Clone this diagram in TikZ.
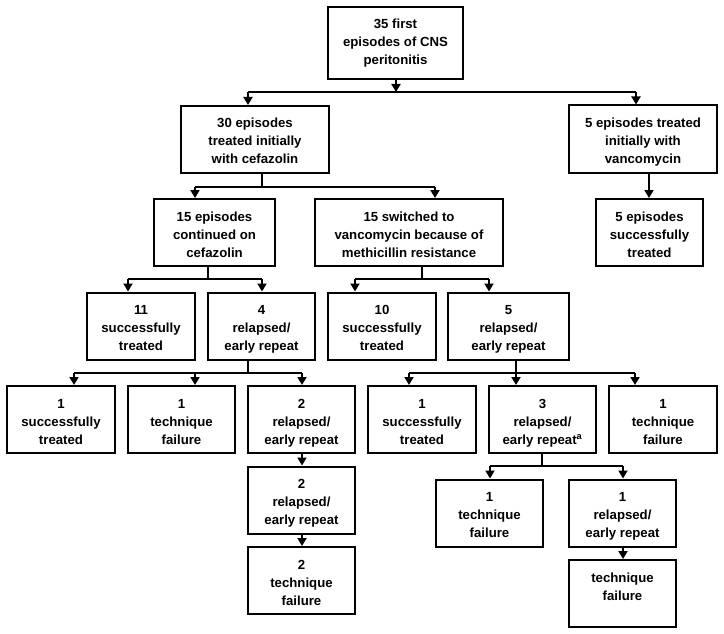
\documentclass[tikz,border=0pt]{standalone}
\usepackage{fontspec}
\setmainfont{Liberation Sans}
\usetikzlibrary{arrows.meta}
\newcommand{\topstrutx}{\rule{0pt}{17pt}}
\newcommand{\botstrutx}{\rule[-4pt]{0pt}{4pt}}
\begin{document}
\begin{tikzpicture}[x=1pt,y=-1pt,
 box/.style={draw, line width=2pt, align=center, inner sep=0pt, minimum height=67pt,
   font=\bfseries\fontsize{13.2}{18}\selectfont},
 conn/.style={line width=1.8pt},
 arr/.style={conn, -{Triangle[length=8pt,width=9pt]}}]
\useasboundingbox (0,0) rectangle (724,634);
\fill[white] (0,0) rectangle (724,634);
% level 0-1
\node[box, minimum width=135pt, minimum height=72pt] (top) at (395.5,43) {35 first\\episodes of CNS\\peritonitis};
\node[box, minimum width=148pt] (n30) at (255,139.5) {\topstrutx 30 episodes\\treated initially\\with cefazolin\botstrutx};
\node[box, minimum width=148pt] (n5v) at (643,139) {\topstrutx 5 episodes treated\\initially with\\vancomycin\botstrutx};
\node[box, minimum width=107pt] (n5s) at (649.5,232.5) {\topstrutx 5 episodes\\successfully\\treated\botstrutx};
% level 2
\node[box, minimum width=121pt] (n15c) at (214.5,232.5) {\topstrutx 15 episodes\\continued on\\cefazolin\botstrutx};
\node[box, minimum width=188pt] (n15s) at (409,232.5) {\topstrutx 15 switched to\\vancomycin because of\\methicillin resistance\botstrutx};
% level 3
\node[box, minimum width=108pt] (n11) at (141,326) {\topstrutx 11\\successfully\\treated\botstrutx};
\node[box, minimum width=107pt] (n4) at (261.5,326) {\topstrutx 4\\relapsed/\\early repeat\botstrutx};
\node[box, minimum width=108pt] (n10) at (382,326) {\topstrutx 10\\successfully\\treated\botstrutx};
\node[box, minimum width=121pt] (n5r) at (508.5,326) {\topstrutx 5\\relapsed/\\early repeat\botstrutx};
% level 4 left
\node[box, minimum width=108pt] (L1) at (61,419.5) {\topstrutx 1\\successfully\\treated\botstrutx};
\node[box, minimum width=107pt] (L2) at (181.5,419.5) {\topstrutx 1\\technique\\failure\botstrutx};
\node[box, minimum width=107pt] (L3) at (301.5,419.5) {\topstrutx 2\\relapsed/\\early repeat\botstrutx};
\node[box, minimum width=107pt] (L4) at (301.5,500) {\topstrutx 2\\relapsed/\\early repeat\botstrutx};
\node[box, minimum width=107pt] (L5) at (301.5,580.5) {\topstrutx 2\\technique\\failure\botstrutx};
% level 4 right
\node[box, minimum width=108pt] (R1) at (422,419.5) {\topstrutx 1\\successfully\\treated\botstrutx};
\node[box, minimum width=107pt] (R2) at (542.5,419.5) {\topstrutx 3\\relapsed/\\early repeat\textsuperscript{a}\botstrutx};
\node[box, minimum width=108pt] (R3) at (663,419.5) {\topstrutx 1\\technique\\failure\botstrutx};
\node[box, minimum width=107pt] (R4) at (489.5,513) {\topstrutx 1\\technique\\failure\botstrutx};
\node[box, minimum width=107pt] (R5) at (622.5,513) {\topstrutx 1\\relapsed/\\early repeat\botstrutx};
\node[box, minimum width=107pt] (R6) at (622.5,593.5) {\topstrutx technique\\failure\\\botstrutx};
% junction coordinates
\coordinate (j0) at (396,92);
\coordinate (j0l) at (248,92);
\coordinate (j0r) at (636,92);
\coordinate (s1) at (649,0);
\coordinate (s2) at (302,0);
\coordinate (s3) at (623,0);
\coordinate (j1) at (262,187);
\coordinate (j1l) at (195,187);
\coordinate (j1r) at (435,187);
\coordinate (j2) at (208,279);
\coordinate (j2l) at (128,279);
\coordinate (j2r) at (262,279);
\coordinate (j3) at (422,279);
\coordinate (j3l) at (355,279);
\coordinate (j3r) at (489,279);
\coordinate (j4) at (248,373);
\coordinate (j4l) at (74,373);
\coordinate (j4m) at (195,373);
\coordinate (j4r) at (302,373);
\coordinate (j5) at (516,373);
\coordinate (j5l) at (409,373);
\coordinate (j5r) at (635,373);
\coordinate (j6) at (542,466);
\coordinate (j6l) at (490,466);
\coordinate (j6r) at (623,466);
% connectors
\draw[arr] (j0 |- top.south) -- (j0);
\draw[conn] (j0l) -- (j0r);
\draw[arr] (j0l) -- (j0l |- n30.north);
\draw[arr] (j0r) -- (j0r |- n5v.north);
\draw[arr] (s1 |- n5v.south) -- (s1 |- n5s.north);
\draw[conn] (j1 |- n30.south) -- (j1);
\draw[conn] (j1l) -- (j1r);
\draw[arr] (j1l) -- (j1l |- n15c.north);
\draw[arr] (j1r) -- (j1r |- n15s.north);
\draw[conn] (j2 |- n15c.south) -- (j2);
\draw[conn] (j2l) -- (j2r);
\draw[arr] (j2l) -- (j2l |- n11.north);
\draw[arr] (j2r) -- (j2r |- n4.north);
\draw[conn] (j3 |- n15s.south) -- (j3);
\draw[conn] (j3l) -- (j3r);
\draw[arr] (j3l) -- (j3l |- n10.north);
\draw[arr] (j3r) -- (j3r |- n5r.north);
\draw[conn] (j4 |- n4.south) -- (j4);
\draw[conn] (j4l) -- (j4r);
\draw[arr] (j4l) -- (j4l |- L1.north);
\draw[arr] (j4m) -- (j4m |- L2.north);
\draw[arr] (j4r) -- (j4r |- L3.north);
\draw[arr] (s2 |- L3.south) -- (s2 |- L4.north);
\draw[arr] (s2 |- L4.south) -- (s2 |- L5.north);
\draw[conn] (j5 |- n5r.south) -- (j5);
\draw[conn] (j5l) -- (j5r);
\draw[arr] (j5l) -- (j5l |- R1.north);
\draw[arr] (j5) -- (j5 |- R2.north);
\draw[arr] (j5r) -- (j5r |- R3.north);
\draw[conn] (j6 |- R2.south) -- (j6);
\draw[conn] (j6l) -- (j6r);
\draw[arr] (j6l) -- (j6l |- R4.north);
\draw[arr] (j6r) -- (j6r |- R5.north);
\draw[arr] (s3 |- R5.south) -- (s3 |- R6.north);
\end{tikzpicture}
\end{document}
